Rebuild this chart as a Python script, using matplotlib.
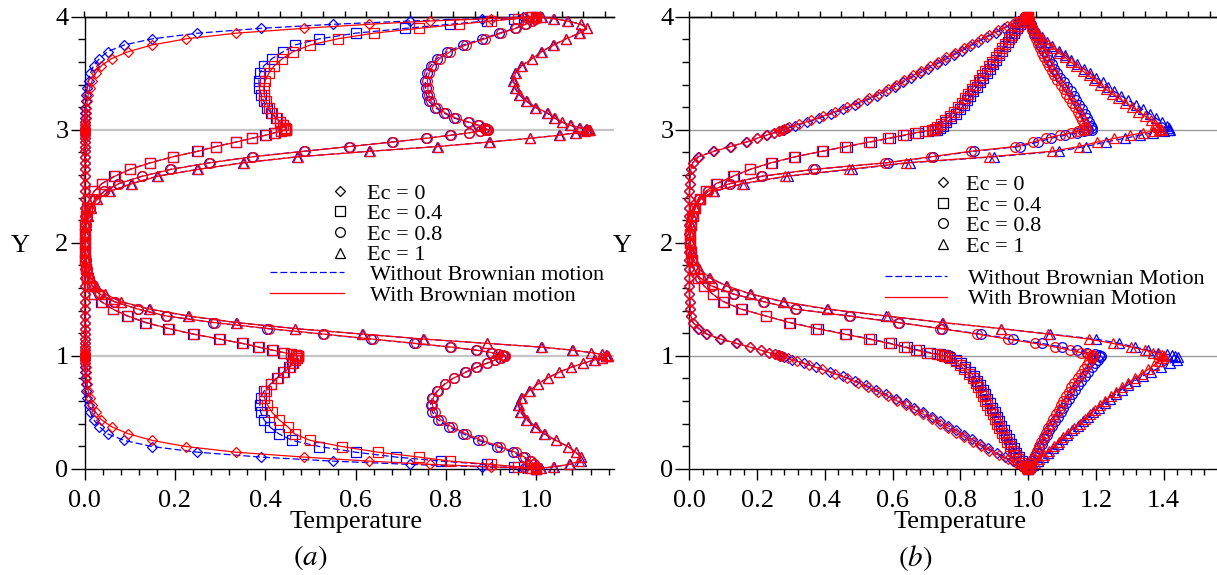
import numpy as np
import matplotlib
matplotlib.use("Agg")
import matplotlib.pyplot as plt
from matplotlib.lines import Line2D
from matplotlib.ticker import MultipleLocator, FormatStrFormatter

plt.rcParams['font.family'] = ['Liberation Serif', 'DejaVu Serif']
plt.rcParams['mathtext.fontset'] = 'stix'

# Channel coordinate Y for panel (a) (nodes clustered near the interfaces at 0, 1, 3, 4)
ya_nodes = [
    0.0, 0.004, 0.017, 0.038, 0.067, 0.103, 0.146, 0.196, 0.25, 0.309, 0.371, 0.435, 0.5,
    0.565, 0.629, 0.691, 0.75, 0.804, 0.854, 0.897, 0.933, 0.962, 0.983, 0.996, 1.0,
    1.003, 1.012, 1.028, 1.049, 1.076, 1.109, 1.147, 1.191, 1.24, 1.293, 1.351, 1.412, 1.478,
    1.546, 1.617, 1.691, 1.767, 1.844, 1.922, 2.0,
    2.078, 2.156, 2.233, 2.309, 2.383, 2.454, 2.522, 2.588, 2.649, 2.707, 2.76, 2.809, 2.851,
    2.891, 2.924, 2.951, 2.972, 2.988, 2.997, 3.0,
    3.004, 3.017, 3.038, 3.067, 3.103, 3.146, 3.196, 3.25, 3.309, 3.371, 3.435, 3.5, 3.565,
    3.629, 3.691, 3.75, 3.804, 3.854, 3.897, 3.933, 3.962, 3.983, 3.996, 4.0]

# Channel coordinate Y for panel (b), one set of nodes for each computation
yb_nodes_without = [
    0.0, 0.012, 0.035, 0.065, 0.1, 0.14, 0.18, 0.22, 0.26, 0.3, 0.34, 0.38, 0.42, 0.46, 0.5,
    0.54, 0.58, 0.62, 0.66, 0.7, 0.74, 0.78, 0.82, 0.86, 0.9, 0.935, 0.965, 0.988, 1.0,
    1.003, 1.012, 1.028, 1.049, 1.076, 1.109, 1.147, 1.191, 1.24, 1.293, 1.351, 1.412, 1.478,
    1.546, 1.617, 1.691, 1.767, 1.844, 1.922, 2.0,
    2.078, 2.156, 2.233, 2.309, 2.383, 2.454, 2.522, 2.588, 2.649, 2.707, 2.76, 2.809, 2.851,
    2.891, 2.924, 2.951, 2.972, 2.988, 2.997, 3.0,
    3.012, 3.035, 3.065, 3.1, 3.14, 3.18, 3.22, 3.26, 3.3, 3.34, 3.38, 3.42, 3.46, 3.5,
    3.54, 3.58, 3.62, 3.66, 3.7, 3.74, 3.78, 3.82, 3.86, 3.9, 3.935, 3.965, 3.988, 4.0]
yb_nodes_with = [
    0.0, 0.006, 0.022, 0.05, 0.082, 0.12, 0.16, 0.2, 0.24, 0.28, 0.32, 0.36, 0.4, 0.44, 0.48,
    0.52, 0.56, 0.6, 0.64, 0.68, 0.72, 0.76, 0.8, 0.84, 0.88, 0.918, 0.95, 0.977, 0.995, 1.0,
    1.003, 1.012, 1.028, 1.049, 1.076, 1.109, 1.147, 1.191, 1.24, 1.293, 1.351, 1.412, 1.478,
    1.546, 1.617, 1.691, 1.767, 1.844, 1.922, 2.0,
    2.078, 2.156, 2.233, 2.309, 2.383, 2.454, 2.522, 2.588, 2.649, 2.707, 2.76, 2.809, 2.851,
    2.891, 2.924, 2.951, 2.972, 2.988, 2.997, 3.0,
    3.005, 3.023, 3.05, 3.082, 3.12, 3.16, 3.2, 3.24, 3.28, 3.32, 3.36, 3.4, 3.44, 3.48,
    3.52, 3.56, 3.6, 3.64, 3.68, 3.72, 3.76, 3.8, 3.84, 3.88, 3.918, 3.95, 3.978, 3.994, 4.0]

ec_labels = ['Ec = 0', 'Ec = 0.4', 'Ec = 0.8', 'Ec = 1']
ec_markers = ['D', 's', 'o', '^']
ec_marker_sizes = [5.2, 7.0, 7.0, 7.2]

# ---------------- panel (a) temperature profiles ----------------
a_without_ec0 = [
    1.0, 0.97, 0.88, 0.72, 0.55, 0.39, 0.25, 0.15, 0.088, 0.051, 0.033, 0.02, 0.013, 0.009, 0.006, 0.004, 0.003, 0.002, 0.002, 0.001, 0.001, 0.001, 0.001, 0.001, 0.001,
    0.001, 0.001, 0.001, 0.001, 0.001, 0.001, 0.001, 0.001, 0.001, 0.0, 0.0, 0.0, 0.0, 0.0, 0.0, 0.0, 0.0, 0.0, 0.0, 0.0,
    0.0, 0.0, 0.0, 0.0, 0.0, 0.0, 0.0, 0.0, 0.0, 0.0, 0.0, 0.001, 0.001, 0.001, 0.001, 0.001, 0.001, 0.001, 0.001, 0.001,
    0.001, 0.001, 0.001, 0.001, 0.001, 0.002, 0.002, 0.003, 0.004, 0.006, 0.009, 0.013, 0.02, 0.033, 0.051, 0.088, 0.15, 0.25, 0.39, 0.55, 0.72, 0.88, 0.97, 1.0]
a_with_ec0 = [
    1.0, 0.975, 0.9, 0.765, 0.63, 0.485, 0.335, 0.225, 0.15, 0.097, 0.06, 0.037, 0.025, 0.017, 0.012, 0.008, 0.006, 0.004, 0.003, 0.003, 0.002, 0.002, 0.002, 0.002, 0.002,
    0.002, 0.002, 0.002, 0.002, 0.002, 0.002, 0.001, 0.001, 0.001, 0.001, 0.001, 0.0, 0.0, 0.0, 0.0, 0.0, 0.0, 0.0, 0.0, 0.0,
    0.0, 0.0, 0.0, 0.0, 0.0, 0.0, 0.0, 0.0, 0.0, 0.001, 0.001, 0.001, 0.001, 0.001, 0.002, 0.002, 0.002, 0.002, 0.002, 0.002,
    0.002, 0.002, 0.002, 0.002, 0.003, 0.003, 0.004, 0.006, 0.008, 0.012, 0.017, 0.025, 0.037, 0.06, 0.097, 0.15, 0.225, 0.335, 0.485, 0.63, 0.765, 0.9, 0.975, 1.0]
a_without_ec04 = [
    1.0, 0.985, 0.95, 0.89, 0.79, 0.69, 0.6, 0.52, 0.46, 0.43, 0.41, 0.397, 0.39, 0.388, 0.39, 0.398, 0.412, 0.426, 0.44, 0.452, 0.46, 0.466, 0.47, 0.472, 0.472,
    0.468, 0.458, 0.44, 0.415, 0.385, 0.348, 0.298, 0.24, 0.185, 0.135, 0.095, 0.062, 0.037, 0.021, 0.011, 0.006, 0.003, 0.002, 0.001, 0.001,
    0.001, 0.002, 0.003, 0.006, 0.011, 0.021, 0.038, 0.066, 0.1, 0.145, 0.195, 0.25, 0.29, 0.335, 0.37, 0.4, 0.42, 0.435, 0.443, 0.446,
    0.446, 0.444, 0.44, 0.433, 0.424, 0.413, 0.404, 0.397, 0.391, 0.387, 0.386, 0.388, 0.397, 0.415, 0.44, 0.466, 0.52, 0.6, 0.71, 0.81, 0.89, 0.95, 0.988, 1.0]
a_with_ec04 = [
    1.0, 0.99, 0.96, 0.9, 0.81, 0.74, 0.65, 0.57, 0.5, 0.465, 0.45, 0.43, 0.415, 0.405, 0.398, 0.402, 0.412, 0.428, 0.442, 0.454, 0.462, 0.467, 0.47, 0.472, 0.472,
    0.468, 0.458, 0.441, 0.417, 0.387, 0.35, 0.3, 0.242, 0.187, 0.137, 0.096, 0.063, 0.038, 0.022, 0.012, 0.006, 0.003, 0.002, 0.001, 0.001,
    0.001, 0.002, 0.003, 0.006, 0.011, 0.021, 0.038, 0.067, 0.101, 0.146, 0.196, 0.251, 0.292, 0.336, 0.371, 0.401, 0.421, 0.436, 0.443, 0.446,
    0.446, 0.444, 0.44, 0.433, 0.425, 0.416, 0.408, 0.402, 0.398, 0.397, 0.4, 0.408, 0.42, 0.438, 0.462, 0.5, 0.56, 0.64, 0.74, 0.83, 0.9, 0.96, 0.99, 1.0]
a_without_ec08 = [
    1.0, 1.0, 0.999, 0.995, 0.986, 0.97, 0.948, 0.912, 0.872, 0.838, 0.806, 0.782, 0.77, 0.766, 0.77, 0.781, 0.797, 0.817, 0.843, 0.867, 0.89, 0.908, 0.92, 0.928, 0.93,
    0.925, 0.915, 0.9, 0.866, 0.81, 0.73, 0.635, 0.527, 0.405, 0.285, 0.18, 0.118, 0.066, 0.033, 0.017, 0.009, 0.005, 0.003, 0.002, 0.002,
    0.002, 0.003, 0.006, 0.012, 0.024, 0.043, 0.075, 0.127, 0.19, 0.275, 0.37, 0.485, 0.585, 0.68, 0.755, 0.81, 0.85, 0.875, 0.888, 0.893,
    0.89, 0.885, 0.872, 0.848, 0.818, 0.796, 0.776, 0.762, 0.757, 0.755, 0.754, 0.758, 0.766, 0.78, 0.803, 0.838, 0.88, 0.918, 0.952, 0.975, 0.99, 0.997, 1.0, 1.0]
a_with_ec08 = [
    1.0, 1.0, 0.999, 0.996, 0.988, 0.974, 0.954, 0.92, 0.88, 0.845, 0.813, 0.788, 0.775, 0.77, 0.772, 0.782, 0.798, 0.818, 0.844, 0.868, 0.891, 0.909, 0.921, 0.929, 0.931,
    0.926, 0.916, 0.901, 0.868, 0.812, 0.733, 0.638, 0.53, 0.408, 0.288, 0.182, 0.119, 0.067, 0.034, 0.017, 0.009, 0.005, 0.003, 0.002, 0.002,
    0.002, 0.003, 0.006, 0.012, 0.024, 0.044, 0.076, 0.128, 0.192, 0.277, 0.372, 0.487, 0.587, 0.682, 0.757, 0.812, 0.851, 0.876, 0.889, 0.894,
    0.891, 0.886, 0.874, 0.851, 0.822, 0.8, 0.781, 0.767, 0.762, 0.76, 0.759, 0.763, 0.771, 0.786, 0.81, 0.845, 0.886, 0.922, 0.955, 0.977, 0.991, 0.997, 1.0, 1.0]
a_without_ec1 = [
    1.0, 1.01, 1.04, 1.075, 1.098, 1.1, 1.088, 1.07, 1.043, 1.017, 0.997, 0.978, 0.965, 0.96, 0.967, 0.984, 1.003, 1.025, 1.05, 1.076, 1.103, 1.128, 1.145, 1.155, 1.158,
    1.155, 1.145, 1.12, 1.08, 1.01, 0.89, 0.75, 0.615, 0.465, 0.335, 0.23, 0.143, 0.08, 0.045, 0.025, 0.014, 0.008, 0.004, 0.002, 0.002,
    0.002, 0.004, 0.008, 0.015, 0.028, 0.055, 0.104, 0.16, 0.25, 0.35, 0.47, 0.63, 0.78, 0.895, 0.985, 1.05, 1.085, 1.105, 1.113, 1.117,
    1.11, 1.095, 1.075, 1.056, 1.04, 1.024, 0.998, 0.978, 0.962, 0.952, 0.948, 0.952, 0.967, 0.99, 1.011, 1.038, 1.065, 1.095, 1.113, 1.1, 1.07, 1.04, 1.012, 1.0]
a_with_ec1 = [
    1.0, 1.009, 1.038, 1.072, 1.095, 1.098, 1.087, 1.07, 1.044, 1.019, 0.999, 0.98, 0.967, 0.962, 0.968, 0.985, 1.004, 1.026, 1.051, 1.077, 1.104, 1.129, 1.146, 1.156, 1.159,
    1.156, 1.146, 1.121, 1.081, 1.012, 0.892, 0.752, 0.617, 0.467, 0.337, 0.232, 0.145, 0.081, 0.046, 0.025, 0.014, 0.008, 0.004, 0.002, 0.002,
    0.002, 0.004, 0.008, 0.015, 0.028, 0.056, 0.105, 0.162, 0.252, 0.352, 0.472, 0.632, 0.782, 0.897, 0.987, 1.052, 1.087, 1.107, 1.115, 1.119,
    1.112, 1.097, 1.077, 1.058, 1.042, 1.026, 1.0, 0.98, 0.964, 0.954, 0.95, 0.954, 0.968, 0.991, 1.012, 1.039, 1.066, 1.096, 1.112, 1.098, 1.068, 1.038, 1.011, 1.0]

# ---------------- panel (b) temperature profiles ----------------
b_without_ec0 = [
    1.0, 0.992, 0.977, 0.956, 0.933, 0.907, 0.882, 0.858, 0.834, 0.81, 0.787, 0.763, 0.739, 0.715, 0.69, 0.664, 0.638, 0.61, 0.58, 0.55, 0.52, 0.488, 0.453, 0.414, 0.375, 0.338, 0.304, 0.279, 0.267,
    0.263, 0.253, 0.235, 0.21, 0.178, 0.138, 0.09, 0.05, 0.026, 0.01, 0.004, 0.002, 0.001, 0.0, 0.0, 0.0, 0.0, 0.0, 0.0, 0.0,
    0.0, 0.0, 0.0, 0.0, 0.0, 0.0, 0.001, 0.002, 0.004, 0.009, 0.025, 0.07, 0.12, 0.168, 0.2, 0.228, 0.25, 0.265, 0.275, 0.278,
    0.288, 0.311, 0.347, 0.382, 0.419, 0.454, 0.489, 0.523, 0.553, 0.58, 0.606, 0.631, 0.655, 0.68, 0.705, 0.73, 0.755, 0.78, 0.805, 0.829, 0.853, 0.878, 0.904, 0.93, 0.955, 0.975, 0.991, 1.0]
b_with_ec0 = [
    1.0, 0.996, 0.984, 0.963, 0.94, 0.913, 0.886, 0.861, 0.836, 0.812, 0.788, 0.763, 0.739, 0.716, 0.691, 0.666, 0.64, 0.613, 0.585, 0.556, 0.526, 0.497, 0.465, 0.429, 0.39, 0.352, 0.318, 0.29, 0.273, 0.266,
    0.262, 0.252, 0.234, 0.21, 0.179, 0.14, 0.093, 0.053, 0.028, 0.011, 0.004, 0.002, 0.001, 0.0, 0.0, 0.0, 0.0, 0.0, 0.0, 0.0,
    0.0, 0.0, 0.0, 0.0, 0.0, 0.0, 0.001, 0.002, 0.004, 0.01, 0.027, 0.073, 0.122, 0.169, 0.2, 0.227, 0.249, 0.264, 0.274, 0.277,
    0.279, 0.294, 0.324, 0.358, 0.393, 0.43, 0.464, 0.498, 0.53, 0.559, 0.585, 0.61, 0.635, 0.66, 0.684, 0.709, 0.734, 0.759, 0.785, 0.81, 0.834, 0.86, 0.886, 0.912, 0.939, 0.962, 0.983, 0.995, 1.0]
b_without_ec04 = [
    1.0, 0.997, 0.99, 0.981, 0.973, 0.965, 0.958, 0.951, 0.943, 0.936, 0.928, 0.921, 0.914, 0.908, 0.901, 0.894, 0.887, 0.88, 0.874, 0.867, 0.859, 0.85, 0.84, 0.828, 0.815, 0.802, 0.786, 0.767, 0.76,
    0.755, 0.74, 0.71, 0.677, 0.641, 0.595, 0.536, 0.463, 0.38, 0.298, 0.227, 0.154, 0.101, 0.068, 0.043, 0.026, 0.014, 0.007, 0.003, 0.002,
    0.002, 0.004, 0.009, 0.017, 0.03, 0.048, 0.08, 0.13, 0.18, 0.243, 0.313, 0.393, 0.465, 0.535, 0.592, 0.638, 0.674, 0.705, 0.726, 0.732,
    0.74, 0.749, 0.759, 0.773, 0.787, 0.8, 0.81, 0.82, 0.829, 0.838, 0.848, 0.858, 0.868, 0.878, 0.887, 0.896, 0.906, 0.915, 0.924, 0.933, 0.942, 0.95, 0.959, 0.968, 0.976, 0.986, 0.995, 1.0]
b_with_ec04 = [
    1.0, 0.998, 0.992, 0.98, 0.969, 0.961, 0.954, 0.946, 0.938, 0.93, 0.922, 0.914, 0.907, 0.901, 0.895, 0.888, 0.88, 0.874, 0.867, 0.86, 0.853, 0.845, 0.836, 0.825, 0.811, 0.799, 0.786, 0.77, 0.756, 0.752,
    0.745, 0.73, 0.7, 0.668, 0.633, 0.588, 0.53, 0.458, 0.375, 0.295, 0.225, 0.152, 0.1, 0.068, 0.043, 0.026, 0.014, 0.007, 0.003, 0.002,
    0.002, 0.004, 0.009, 0.017, 0.03, 0.048, 0.078, 0.128, 0.178, 0.24, 0.31, 0.39, 0.46, 0.53, 0.585, 0.63, 0.665, 0.695, 0.715, 0.72,
    0.725, 0.732, 0.742, 0.754, 0.768, 0.782, 0.794, 0.804, 0.813, 0.823, 0.833, 0.844, 0.854, 0.864, 0.874, 0.884, 0.894, 0.905, 0.915, 0.924, 0.933, 0.943, 0.952, 0.961, 0.97, 0.979, 0.99, 0.997, 1.0]
b_without_ec08 = [
    1.0, 1.002, 1.007, 1.013, 1.019, 1.026, 1.033, 1.04, 1.048, 1.055, 1.063, 1.072, 1.08, 1.088, 1.096, 1.104, 1.112, 1.12, 1.129, 1.138, 1.147, 1.157, 1.168, 1.178, 1.189, 1.198, 1.206, 1.212, 1.215,
    1.21, 1.198, 1.175, 1.145, 1.1, 1.04, 0.955, 0.86, 0.745, 0.62, 0.475, 0.315, 0.22, 0.13, 0.066, 0.03, 0.013, 0.006, 0.003, 0.002,
    0.002, 0.003, 0.007, 0.014, 0.028, 0.055, 0.12, 0.215, 0.37, 0.585, 0.72, 0.84, 0.975, 1.03, 1.068, 1.11, 1.145, 1.165, 1.178, 1.19,
    1.188, 1.185, 1.181, 1.175, 1.167, 1.159, 1.151, 1.143, 1.135, 1.126, 1.116, 1.105, 1.095, 1.086, 1.078, 1.07, 1.063, 1.055, 1.047, 1.039, 1.032, 1.025, 1.018, 1.012, 1.008, 1.004, 1.001, 1.0]
b_with_ec08 = [
    1.0, 1.001, 1.004, 1.009, 1.014, 1.02, 1.026, 1.033, 1.039, 1.046, 1.053, 1.06, 1.067, 1.075, 1.082, 1.09, 1.097, 1.104, 1.112, 1.12, 1.128, 1.137, 1.146, 1.156, 1.166, 1.175, 1.181, 1.188, 1.192, 1.193,
    1.188, 1.177, 1.156, 1.125, 1.08, 1.02, 0.94, 0.85, 0.74, 0.615, 0.47, 0.313, 0.218, 0.128, 0.065, 0.03, 0.013, 0.006, 0.003, 0.002,
    0.002, 0.003, 0.007, 0.014, 0.028, 0.054, 0.118, 0.212, 0.365, 0.578, 0.712, 0.83, 0.962, 1.015, 1.052, 1.093, 1.127, 1.148, 1.16, 1.172,
    1.171, 1.169, 1.165, 1.16, 1.154, 1.146, 1.138, 1.13, 1.122, 1.113, 1.105, 1.096, 1.086, 1.078, 1.07, 1.063, 1.055, 1.048, 1.042, 1.035, 1.029, 1.023, 1.018, 1.013, 1.008, 1.004, 1.002, 1.0, 1.0]
b_without_ec1 = [
    1.0, 1.005, 1.014, 1.029, 1.043, 1.058, 1.074, 1.088, 1.101, 1.115, 1.13, 1.146, 1.162, 1.178, 1.193, 1.209, 1.226, 1.242, 1.259, 1.276, 1.295, 1.316, 1.339, 1.364, 1.392, 1.419, 1.439, 1.444, 1.435,
    1.425, 1.41, 1.385, 1.355, 1.315, 1.27, 1.2, 1.065, 0.92, 0.745, 0.58, 0.405, 0.275, 0.18, 0.108, 0.058, 0.028, 0.012, 0.005, 0.003,
    0.002, 0.004, 0.008, 0.016, 0.032, 0.072, 0.16, 0.29, 0.48, 0.65, 0.9, 1.09, 1.17, 1.23, 1.285, 1.33, 1.37, 1.4, 1.415, 1.42,
    1.417, 1.409, 1.396, 1.379, 1.36, 1.339, 1.318, 1.296, 1.275, 1.254, 1.236, 1.22, 1.201, 1.183, 1.164, 1.145, 1.127, 1.108, 1.09, 1.072, 1.057, 1.042, 1.03, 1.019, 1.011, 1.004, 1.001, 1.0]
b_with_ec1 = [
    1.0, 1.002, 1.008, 1.019, 1.033, 1.047, 1.062, 1.077, 1.091, 1.104, 1.118, 1.136, 1.152, 1.167, 1.182, 1.198, 1.213, 1.228, 1.244, 1.26, 1.278, 1.296, 1.316, 1.336, 1.355, 1.373, 1.387, 1.396, 1.4, 1.4,
    1.397, 1.388, 1.37, 1.345, 1.305, 1.25, 1.18, 1.06, 0.92, 0.75, 0.585, 0.41, 0.278, 0.182, 0.11, 0.06, 0.029, 0.013, 0.006, 0.003,
    0.002, 0.004, 0.008, 0.016, 0.032, 0.07, 0.155, 0.283, 0.47, 0.64, 0.885, 1.07, 1.15, 1.205, 1.255, 1.3, 1.34, 1.37, 1.388, 1.395,
    1.392, 1.385, 1.376, 1.362, 1.345, 1.326, 1.307, 1.287, 1.267, 1.247, 1.229, 1.212, 1.195, 1.179, 1.161, 1.143, 1.126, 1.109, 1.091, 1.075, 1.059, 1.045, 1.033, 1.022, 1.014, 1.007, 1.003, 1.0, 1.0]

a_without = [a_without_ec0, a_without_ec04, a_without_ec08, a_without_ec1]
a_with = [a_with_ec0, a_with_ec04, a_with_ec08, a_with_ec1]
b_without = [b_without_ec0, b_without_ec04, b_without_ec08, b_without_ec1]
b_with = [b_with_ec0, b_with_ec04, b_with_ec08, b_with_ec1]

W, H = 1217, 575
fig = plt.figure(figsize=(W / 100, H / 100), dpi=100)

ax_a = fig.add_axes([84.5 / W, 1 - 468.7 / H, 529.5 / W, 452 / H])
ax_b = fig.add_axes([689.5 / W, 1 - 468.7 / H, 527.5 / W, 452 / H])

DASH = (0, (5.5, 2.4))


def style_axes(ax, xmax, top_step, grid_color, grid_lw, ylab_x):
    ax.set_xlim(0, xmax)
    ax.set_ylim(0, 4)
    ax.spines['right'].set_visible(False)
    for s in ('left', 'bottom', 'top'):
        ax.spines[s].set_linewidth(1.0)
    ax.xaxis.set_major_locator(MultipleLocator(0.2))
    ax.xaxis.set_minor_locator(MultipleLocator(0.04))
    ax.xaxis.set_major_formatter(FormatStrFormatter('%.1f'))
    ax.yaxis.set_major_locator(MultipleLocator(1))
    ax.yaxis.set_minor_locator(MultipleLocator(0.2))
    ax.tick_params(axis='x', which='major', direction='out', length=8, width=1,
                   labelsize=19, pad=7)
    ax.tick_params(axis='x', which='minor', direction='out', length=4.3, width=1)
    ax.tick_params(axis='y', which='major', direction='out', length=10, width=1,
                   labelsize=19, pad=1.5)
    ax.tick_params(axis='y', which='minor', direction='out', length=4.8, width=1)
    top = ax.secondary_xaxis('top')
    top.set_xticks(np.arange(0, xmax, top_step))
    top.tick_params(axis='x', which='major', direction='out', length=4, width=1,
                    labeltop=False)
    top.tick_params(axis='x', which='minor', length=0)
    top.spines['top'].set_linewidth(1.0)
    for yv in (1, 3):
        ax.axhline(yv, color=grid_color, lw=grid_lw, zorder=0.5)
    ax.set_xlabel('Temperature', fontsize=19)
    ax.xaxis.set_label_coords(0.513, -0.131)
    ax.xaxis.label.set_va('baseline')
    ax.set_ylabel('Y', fontsize=19, rotation=0, ha='center', va='center')
    ax.yaxis.set_label_coords(ylab_x, 0.493)


def draw_profiles(ax, without, with_, y_without, y_with):
    for vals, m, ms in zip(without, ec_markers, ec_marker_sizes):
        ax.plot(vals, y_without, color='#0000ff', ls=DASH, lw=0.9, marker=m, ms=ms,
                mfc='none', mec='#0000ff', mew=0.9, clip_on=False, zorder=3)
    for vals, m, ms in zip(with_, ec_markers, ec_marker_sizes):
        ax.plot(vals, y_with, color='#ff0000', ls='-', lw=0.9, marker=m, ms=ms,
                mfc='none', mec='#ff0000', mew=0.9, clip_on=False, zorder=4)


def add_legends(ax, mk_anchor, mk_pad, ln_anchor, ln_len, ln_pad, line_labels):
    mk_handles = [Line2D([], [], ls='none', marker=m, ms=ms, mfc='none', mec='k', mew=0.9)
                  for m, ms in zip(ec_markers, ec_marker_sizes)]
    leg1 = ax.legend(mk_handles, ec_labels, loc='center left', bbox_to_anchor=mk_anchor,
                     frameon=False, fontsize=16, handlelength=1.0, handletextpad=mk_pad,
                     labelspacing=0.0, borderpad=0, borderaxespad=0)
    ax.add_artist(leg1)
    ln_handles = [Line2D([], [], color='#0000ff', ls=DASH, lw=0.9),
                  Line2D([], [], color='#ff0000', ls='-', lw=0.9)]
    ax.legend(ln_handles, line_labels, loc='center left', bbox_to_anchor=ln_anchor,
              frameon=False, fontsize=16, handlelength=ln_len, handletextpad=ln_pad,
              labelspacing=0.0, borderpad=0, borderaxespad=0)


style_axes(ax_a, 1.172, 0.048, '#c4c4c4', 1.6, -0.121)
style_axes(ax_b, 1.558, 0.064, '#9a9a9a', 1.0, -0.1268)

draw_profiles(ax_a, a_without, a_with, ya_nodes, ya_nodes)
draw_profiles(ax_b, b_without, b_with, yb_nodes_without, yb_nodes_with)

add_legends(ax_a, (0.4616, 0.541), 0.72, (0.350, 0.406), 3.33, 1.17,
            ['Without Brownian motion', 'With Brownian motion'])
add_legends(ax_b, (0.4595, 0.560), 0.54, (0.3706, 0.398), 2.79, 0.95,
            ['Without Brownian Motion', 'With Brownian Motion'])

fig.text(310.5 / W, 1 - 558 / H, r'$(a)$', fontsize=21, ha='center', va='center')
fig.text(915 / W, 1 - 558 / H, r'$(b)$', fontsize=21, ha='center', va='center')

fig.savefig('out.png', dpi=100)
